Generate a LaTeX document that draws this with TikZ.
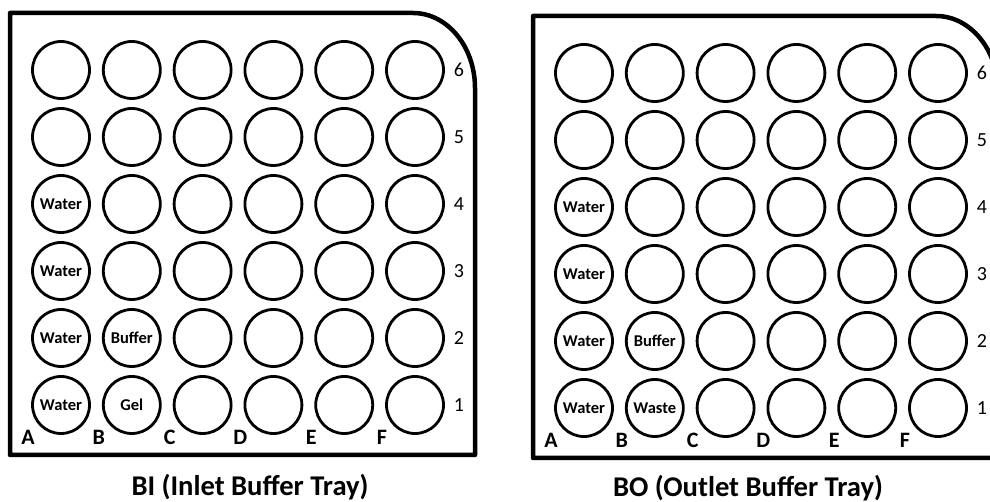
\documentclass[tikz,border=0pt]{standalone}
\usepackage{fontspec}
\setmainfont{Carlito}

\tikzset{
  tray/.style={line width=4.5pt, line join=round},
  well/.style={circle, draw, line width=2.8pt, minimum size=57pt, inner sep=0pt},
  welltext/.style={font=\fontsize{16.5}{18}\selectfont\bfseries},
  rownum/.style={font=\fontsize{20}{22}\selectfont},
  colname/.style={font=\fontsize{22}{24}\selectfont\bfseries},
  caption/.style={font=\fontsize{28.6}{31}\selectfont\bfseries}
}

\begin{document}
\begin{tikzpicture}[x=1pt,y=1pt]
\useasboundingbox (0,0) rectangle (990,502);
\clip (0,0) rectangle (990,502);

% both trays: outline, 6x6 wells, row and column names
\foreach \t/\dx/\dy in {bi/0/0, bo/523/-3} {
  \begin{scope}[shift={(\dx,\dy)}]
    \draw[tray] (10,47) -- (10,489) -- (413,489)
      arc[start angle=90, end angle=0, x radius=62, y radius=75] -- (475,47) -- cycle;
    \foreach \c [count=\i from 0] in {A,...,F} {
      \foreach \r in {1,...,6}
        \node[well] (\t-\c\r) at (61+70.8*\i, 30+67*\r) {};
      \node[colname] at (28+70.8*\i, 65) {\c};
    }
    \foreach \r in {1,...,6}
      \node[rownum] at (459, 30+67*\r) {\r};
  \end{scope}
}

% inlet contents
\node[welltext] at (bi-A4) {Water};
\node[welltext] at (bi-A3) {Water};
\node[welltext] at (bi-A2) {Water};
\node[welltext] at (bi-A1) {Water};
\node[welltext] at (bi-B2) {Buffer};
\node[welltext] at (bi-B1) {Gel};

% outlet contents
\node[welltext] at (bo-A4) {Water};
\node[welltext] at (bo-A3) {Water};
\node[welltext] at (bo-A2) {Water};
\node[welltext] at (bo-A1) {Water};
\node[welltext] at (bo-B2) {Buffer};
\node[welltext] at (bo-B1) {Waste};

\node[caption] at (250,15) {BI (Inlet Buffer Tray)};
\node[caption] at (748,14) {BO (Outlet Buffer Tray)};
\end{tikzpicture}
\end{document}
